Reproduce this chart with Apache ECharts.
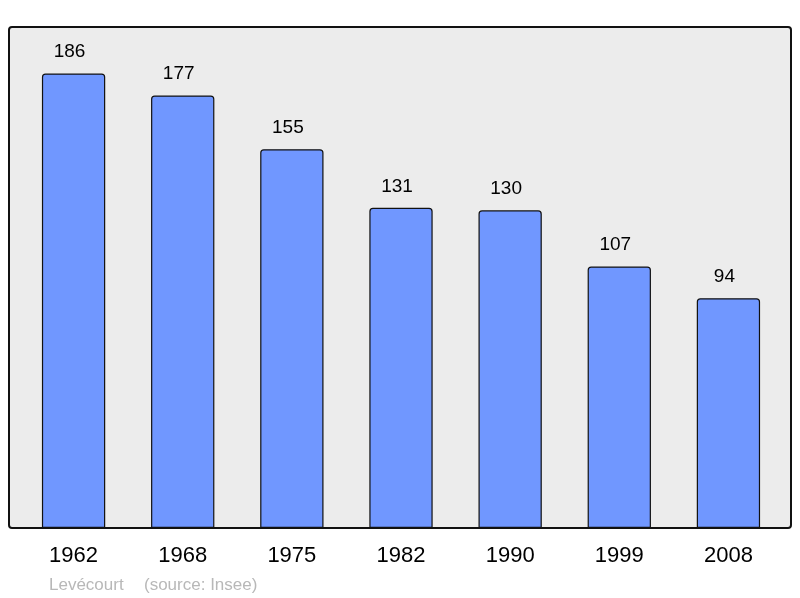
<!DOCTYPE html>
<html>
<head>
<meta charset="utf-8">
<script src="https://cdn.jsdelivr.net/npm/echarts@6/dist/echarts.min.js"></script>
<style>
  html, body { margin: 0; padding: 0; background: #fff; }
  #main { width: 800px; height: 598px; }
</style>
</head>
<body>
<div id="main"></div>
<script>
// données de population
var years = ['1962', '1968', '1975', '1982', '1990', '1999', '2008'];
var population = [186, 177, 155, 131, 130, 107, 94];
var yMax = 205;

var myChart = echarts.init(document.getElementById('main'));

var option = {
    backgroundColor: '#ffffff',
    animation: false,
    textStyle: { fontFamily: 'Liberation Sans, Arial, sans-serif' },
    graphic: [
        {
            type: 'rect',
            z: -10,
            shape: { x: 9, y: 27, width: 782, height: 501, r: 3 },
            style: { fill: '#ececec', stroke: '#111', lineWidth: 2 }
        },
        {
            type: 'text',
            left: 49,
            top: 577,
            style: {
                text: 'Levécourt',
                fill: '#b8b8b8',
                font: '17px Liberation Sans, Arial, sans-serif'
            }
        },
        {
            type: 'text',
            left: 144,
            top: 577,
            style: {
                text: '(source: Insee)',
                fill: '#b8b8b8',
                font: '17px Liberation Sans, Arial, sans-serif'
            }
        }
    ],
    grid: { left: 19, right: 17, top: 27, bottom: 70 },
    xAxis: {
        type: 'category',
        data: years,
        axisLine: { show: false },
        axisTick: { show: false },
        axisLabel: { color: '#000', fontSize: 22, margin: 17 }
    },
    yAxis: {
        type: 'value',
        min: 0,
        max: yMax,
        show: false,
        splitLine: { show: false }
    },
    series: [{
        type: 'bar',
        data: population,
        barCategoryGap: '42%',
        itemStyle: {
            color: '#7097ff',
            borderColor: '#111',
            borderWidth: 1.2,
            borderRadius: [3, 3, 0, 0]
        },
        label: {
            show: true,
            position: 'top',
            distance: 12,
            offset: [-4, 0],
            color: '#000',
            fontSize: 19
        }
    }]
};

myChart.setOption(option);
</script>
</body>
</html>
